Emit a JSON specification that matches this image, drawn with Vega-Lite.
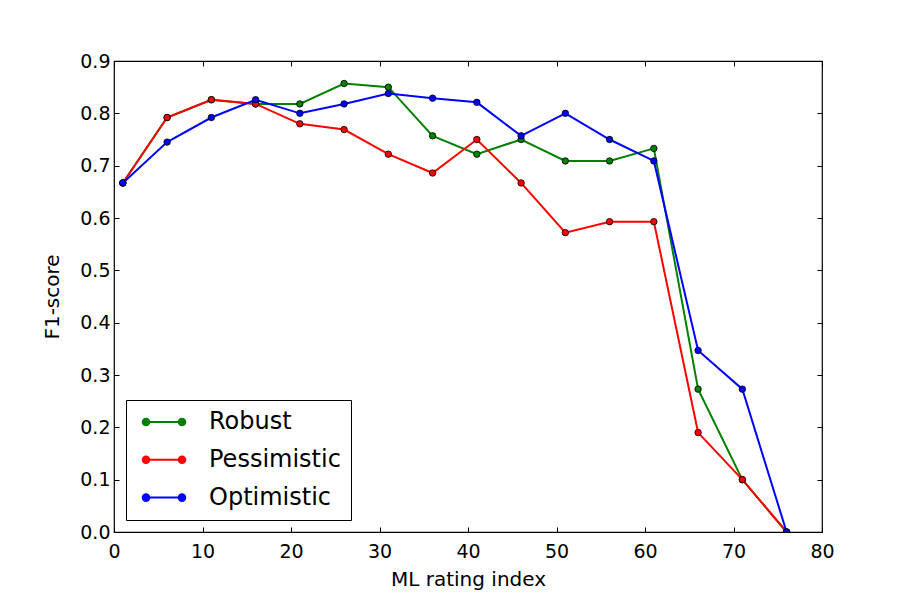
{
  "$schema": "https://vega.github.io/schema/vega-lite/v6.json",
  "autosize": "none",
  "width": 708,
  "height": 471,
  "padding": {"left": 114, "top": 61, "right": 91, "bottom": 77},
  "background": "white",
  "data": {
    "values": [
      {"index": 1, "f1": 0.667, "method": "Robust"},
      {"index": 6, "f1": 0.792, "method": "Robust"},
      {"index": 11, "f1": 0.826, "method": "Robust"},
      {"index": 16, "f1": 0.818, "method": "Robust"},
      {"index": 21, "f1": 0.818, "method": "Robust"},
      {"index": 26, "f1": 0.857, "method": "Robust"},
      {"index": 31, "f1": 0.85, "method": "Robust"},
      {"index": 36, "f1": 0.757, "method": "Robust"},
      {"index": 41, "f1": 0.722, "method": "Robust"},
      {"index": 46, "f1": 0.75, "method": "Robust"},
      {"index": 51, "f1": 0.709, "method": "Robust"},
      {"index": 56, "f1": 0.709, "method": "Robust"},
      {"index": 61, "f1": 0.733, "method": "Robust"},
      {"index": 66, "f1": 0.273, "method": "Robust"},
      {"index": 71, "f1": 0.1, "method": "Robust"},
      {"index": 76, "f1": 0.0, "method": "Robust"},
      {"index": 1, "f1": 0.667, "method": "Pessimistic"},
      {"index": 6, "f1": 0.792, "method": "Pessimistic"},
      {"index": 11, "f1": 0.826, "method": "Pessimistic"},
      {"index": 16, "f1": 0.818, "method": "Pessimistic"},
      {"index": 21, "f1": 0.78, "method": "Pessimistic"},
      {"index": 26, "f1": 0.769, "method": "Pessimistic"},
      {"index": 31, "f1": 0.722, "method": "Pessimistic"},
      {"index": 36, "f1": 0.686, "method": "Pessimistic"},
      {"index": 41, "f1": 0.75, "method": "Pessimistic"},
      {"index": 46, "f1": 0.667, "method": "Pessimistic"},
      {"index": 51, "f1": 0.572, "method": "Pessimistic"},
      {"index": 56, "f1": 0.593, "method": "Pessimistic"},
      {"index": 61, "f1": 0.593, "method": "Pessimistic"},
      {"index": 66, "f1": 0.19, "method": "Pessimistic"},
      {"index": 71, "f1": 0.1, "method": "Pessimistic"},
      {"index": 76, "f1": 0.0, "method": "Pessimistic"},
      {"index": 1, "f1": 0.667, "method": "Optimistic"},
      {"index": 6, "f1": 0.745, "method": "Optimistic"},
      {"index": 11, "f1": 0.792, "method": "Optimistic"},
      {"index": 16, "f1": 0.826, "method": "Optimistic"},
      {"index": 21, "f1": 0.8, "method": "Optimistic"},
      {"index": 26, "f1": 0.818, "method": "Optimistic"},
      {"index": 31, "f1": 0.838, "method": "Optimistic"},
      {"index": 36, "f1": 0.829, "method": "Optimistic"},
      {"index": 41, "f1": 0.821, "method": "Optimistic"},
      {"index": 46, "f1": 0.757, "method": "Optimistic"},
      {"index": 51, "f1": 0.8, "method": "Optimistic"},
      {"index": 56, "f1": 0.75, "method": "Optimistic"},
      {"index": 61, "f1": 0.709, "method": "Optimistic"},
      {"index": 66, "f1": 0.347, "method": "Optimistic"},
      {"index": 71, "f1": 0.273, "method": "Optimistic"},
      {"index": 76, "f1": 0.0, "method": "Optimistic"}
    ]
  },
  "layer": [
    {
      "mark": {"type": "line", "strokeWidth": 2, "clip": true},
      "encoding": {
        "x": {
          "field": "index",
          "type": "quantitative",
          "scale": {"domain": [0, 80], "nice": false, "zero": false},
          "axis": {
            "title": "ML rating index",
            "values": [0, 10, 20, 30, 40, 50, 60, 70, 80],
            "format": "d",
            "tickSize": -5,
            "labelPadding": 15,
            "titlePadding": 8
          }
        },
        "y": {
          "field": "f1",
          "type": "quantitative",
          "scale": {"domain": [0, 0.9], "nice": false, "zero": false},
          "axis": {
            "title": "F1-score",
            "values": [0, 0.1, 0.2, 0.3, 0.4, 0.5, 0.6, 0.7, 0.8, 0.9],
            "format": ".1f",
            "tickSize": -5,
            "labelPadding": 9,
            "titlePadding": 17
          }
        },
        "color": {
          "field": "method",
          "type": "nominal",
          "sort": ["Robust", "Pessimistic", "Optimistic"],
          "scale": {
            "domain": ["Robust", "Pessimistic", "Optimistic"],
            "range": ["#008000", "#ff0000", "#0000ff"]
          },
          "legend": {
            "title": null,
            "orient": "bottom-left",
            "offset": 12,
            "padding": 10,
            "strokeColor": "black",
            "fillColor": "white",
            "cornerRadius": 0,
            "labelFontSize": 24,
            "labelFont": "DejaVu Sans",
            "labelColor": "black",
            "labelOffset": 49,
            "rowPadding": 13.8,
            "symbolSize": 400,
            "symbolStrokeWidth": 2,
            "symbolType": "M-0.2,0L3.4,0M-0.53,0A0.33,0.33,0,1,0,0.13,0A0.33,0.33,0,1,0,-0.53,0M3.07,0A0.33,0.33,0,1,0,3.73,0A0.33,0.33,0,1,0,3.07,0"
          }
        }
      }
    },
    {
      "mark": {"type": "point", "filled": true, "size": 42, "stroke": "black", "strokeWidth": 0.8, "opacity": 1, "clip": true},
      "encoding": {
        "x": {
          "field": "index",
          "type": "quantitative",
          "axis": {"orient": "top", "title": null, "labels": false, "values": [0, 10, 20, 30, 40, 50, 60, 70, 80], "tickSize": -5}
        },
        "y": {
          "field": "f1",
          "type": "quantitative",
          "axis": {"orient": "right", "title": null, "labels": false, "values": [0, 0.1, 0.2, 0.3, 0.4, 0.5, 0.6, 0.7, 0.8, 0.9], "tickSize": -5}
        },
        "fill": {
          "field": "method",
          "type": "nominal",
          "scale": {
            "domain": ["Robust", "Pessimistic", "Optimistic"],
            "range": ["#008000", "#ff0000", "#0000ff"]
          },
          "legend": null
        }
      }
    }
  ],
  "resolve": {"axis": {"x": "independent", "y": "independent"}},
  "config": {
    "view": {"stroke": "black", "strokeWidth": 1.2},
    "font": "DejaVu Sans",
    "axis": {
      "grid": false,
      "domain": false,
      "tickColor": "black",
      "tickWidth": 1,
      "labelFont": "DejaVu Sans",
      "labelFontSize": 19,
      "labelColor": "black",
      "titleFont": "DejaVu Sans",
      "titleFontSize": 20,
      "titleFontWeight": "normal",
      "titleColor": "black",
      "labelFlush": false,
      "labelOverlap": false
    }
  }
}
